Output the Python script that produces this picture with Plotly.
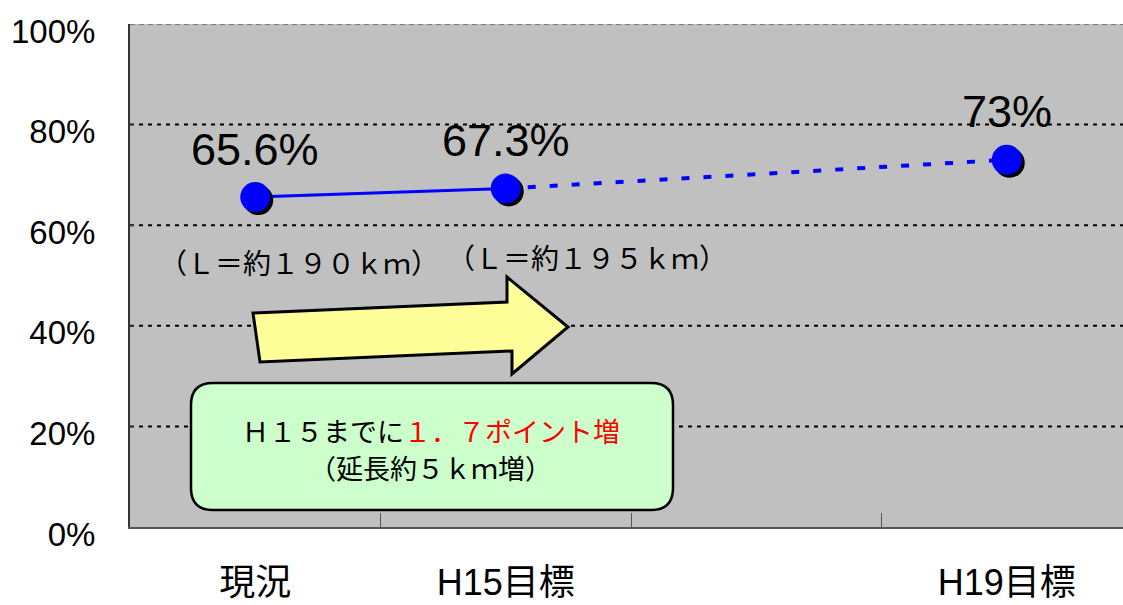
import plotly.graph_objects as go

# ---- data -------------------------------------------------------------
categories = ["現況", "H15目標", " ", "H19目標"]
actual = [65.6, 67.3, None, None]      # achieved (solid line)
target = [None, 67.3, None, 73]        # planned (dashed line)
points = [65.6, 67.3, None, 73]        # marked values
y_ticks = [0, 20, 40, 60, 80, 100]
y_tick_text = ["0%", "20%", "40%", "60%", "80%", "100%"]
length_notes = ["（Ｌ＝約１９０ｋｍ）", "（Ｌ＝約１９５ｋｍ）"]
box_line1 = "Ｈ１５までに"
box_line1_red = "１．７ポイント増"
box_line2 = "（延長約５ｋｍ増）"

# ---- geometry ---------------------------------------------------------
W, H = 1123, 605
PL, PR, PT, PB = 130, 1123, 24, 527
X_RANGE = [-0.5, -0.5 + (PR - PL) / 250.5]
Y_RANGE = [0, 100]
ux = (X_RANGE[1] - X_RANGE[0]) / (PR - PL)
uy = (Y_RANGE[1] - Y_RANGE[0]) / (PB - PT)
SHADOW = 3  # px offset of the marker shadow


def px(x):
    return (x - PL) / (PR - PL)


def py(y):
    return (PB - y) / (PB - PT)


JP = "Noto Sans CJK JP"
LAT = "Liberation Sans, Arial, " + JP

fig = go.Figure()

# lines
fig.add_trace(go.Scatter(x=categories, y=actual, mode="lines",
                         line=dict(color="#0000FF", width=3),
                         hoverinfo="skip", showlegend=False))
fig.add_trace(go.Scatter(x=categories, y=target, mode="lines",
                         connectgaps=True,
                         line=dict(color="#0000FF", width=4, dash="8px,14px"),
                         hoverinfo="skip", showlegend=False))
# marker shadows (drawn on a slightly shifted overlay)
fig.add_trace(go.Scatter(x=categories, y=points, mode="markers",
                         xaxis="x2", yaxis="y2",
                         marker=dict(color="black", size=30, line=dict(width=0)),
                         hoverinfo="skip", showlegend=False))
# markers
fig.add_trace(go.Scatter(x=categories, y=points, mode="markers",
                         xaxis="x3", yaxis="y3",
                         marker=dict(color="#0000FF", size=30, line=dict(width=0)),
                         showlegend=False))

# value labels
for c, v in zip(categories, points):
    if v is None:
        continue
    fig.add_annotation(x=c, y=v, xref="x", yref="y", text=f"{v:g}%",
                       showarrow=False, yshift=48, xanchor="center", yanchor="middle",
                       font=dict(family=LAT, size=45, color="black"))

shapes = []
# dotted gridlines
for t in y_ticks[1:-1]:
    shapes.append(dict(type="line", xref="paper", yref="y", x0=0, x1=1, y0=t, y1=t,
                       line=dict(color="black", width=2, dash="4px,5px"), layer="below"))
# top border
shapes.append(dict(type="line", xref="paper", yref="y", x0=0, x1=1, y0=100, y1=100,
                   line=dict(color="#7a7a7a", width=2, dash="5px,4px"), layer="below"))

# yellow arrow
arrow = [(253, 313), (507, 302), (507, 277), (568, 327), (512, 374), (512, 351), (260, 362)]
path = "M " + " L ".join(f"{px(a):.5f},{py(b):.5f}" for a, b in arrow) + " Z"
shapes.append(dict(type="path", xref="paper", yref="paper", path=path,
                   fillcolor="#FFFF99", line=dict(color="black", width=3), layer="above"))

# rounded green box
bx0, bx1, by0, by1, r = 191, 673, 383, 510, 22
pts = [
    ("M", (bx0 + r, by0)), ("L", (bx1 - r, by0)), ("Q", (bx1, by0), (bx1, by0 + r)),
    ("L", (bx1, by1 - r)), ("Q", (bx1, by1), (bx1 - r, by1)),
    ("L", (bx0 + r, by1)), ("Q", (bx0, by1), (bx0, by1 - r)),
    ("L", (bx0, by0 + r)), ("Q", (bx0, by0), (bx0 + r, by0)),
]
seg = []
for item in pts:
    cmd = item[0]
    coords = " ".join(f"{px(a):.5f},{py(b):.5f}" for a, b in item[1:])
    seg.append(f"{cmd} {coords}")
shapes.append(dict(type="path", xref="paper", yref="paper", path=" ".join(seg) + " Z",
                   fillcolor="#CCFFCC", line=dict(color="black", width=2.5), layer="above"))

# length notes
for (cx, cy), txt in zip([(299, 262), (587, 257)], length_notes):
    fig.add_annotation(x=px(cx), y=py(cy), xref="paper", yref="paper", text=txt,
                       showarrow=False, xanchor="center", yanchor="middle",
                       font=dict(family=JP, size=28, color="black"))

# box text
fig.add_annotation(x=px(431), y=py(430), xref="paper", yref="paper",
                   text=f"{box_line1}<span style='color:#FF0000'>{box_line1_red}</span>",
                   showarrow=False, xanchor="center", yanchor="middle",
                   font=dict(family=JP, size=27, color="black"))
fig.add_annotation(x=px(430), y=py(467), xref="paper", yref="paper",
                   text=box_line2, showarrow=False, xanchor="center", yanchor="middle",
                   font=dict(family=JP, size=27, color="black"))

fig.update_layout(
    width=W, height=H, autosize=False,
    margin=dict(l=PL, r=W - PR, t=PT, b=H - PB, autoexpand=False),
    paper_bgcolor="white", plot_bgcolor="#C0C0C0",
    shapes=shapes, showlegend=False,
    xaxis=dict(type="category", categoryorder="array", categoryarray=categories,
               range=X_RANGE, showgrid=False, zeroline=False, automargin=False,
               showline=True, linecolor="#555555", linewidth=2,
               ticks="inside", tickson="boundaries", ticklen=14,
               tickcolor="#555555", tickwidth=1,
               ticklabelstandoff=23,
               tickfont=dict(family=LAT, size=36, color="black")),
    yaxis=dict(range=Y_RANGE, tickmode="array", tickvals=y_ticks, ticktext=y_tick_text,
               showgrid=False, zeroline=False, automargin=False,
               showline=True, linecolor="#333333", linewidth=2,
               ticks="inside", ticklen=4, tickcolor="#333333",
               ticklabelstandoff=26, ticklabelshift=7,
               tickfont=dict(family=LAT, size=33, color="black")),
    xaxis2=dict(type="category", categoryorder="array", categoryarray=categories,
                overlaying="x", visible=False,
                range=[X_RANGE[0] - SHADOW * ux, X_RANGE[1] - SHADOW * ux]),
    yaxis2=dict(overlaying="y", visible=False,
                range=[Y_RANGE[0] + SHADOW * uy, Y_RANGE[1] + SHADOW * uy]),
    xaxis3=dict(type="category", categoryorder="array", categoryarray=categories,
                overlaying="x", visible=False, range=X_RANGE),
    yaxis3=dict(overlaying="y", visible=False, range=Y_RANGE),
)

fig.write_html("out.html")
